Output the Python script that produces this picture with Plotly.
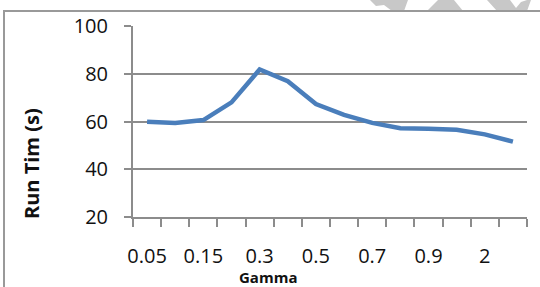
import plotly.graph_objects as go

gamma = ["0.05", "0.1", "0.15", "0.2", "0.3", "0.4", "0.5", "0.6", "0.7", "0.8", "0.9", "1", "2", "3"]
run_time = [59.9, 59.4, 60.6, 68.0, 81.8, 76.9, 67.3, 62.8, 59.4, 57.2, 57.0, 56.5, 54.6, 51.6]
y_ticks = [20, 40, 60, 80, 100]

idx = list(range(len(gamma)))
label_idx = idx[::2]

fig = go.Figure()
fig.add_trace(go.Scatter(
    x=idx, y=run_time, mode="lines",
    line=dict(color="#4A7EBB", width=4.5),
    hoverinfo="skip", showlegend=False,
))

axis_col = "#8C8C8C"
fig.update_layout(
    width=540, height=287,
    margin=dict(l=133, r=13, t=26, b=70),
    paper_bgcolor="white", plot_bgcolor="white",
    font=dict(family="Open Sans, Liberation Sans, sans-serif", color="#111111"),
    xaxis=dict(
        range=[-0.5, len(gamma) - 0.5],
        tickmode="array", tickvals=label_idx, ticktext=[gamma[i] for i in label_idx],
        ticks="", showgrid=False, zeroline=False,
        showline=True, linecolor=axis_col, linewidth=2,
        tickfont=dict(size=20),
        ticklabelstandoff=20,
        minor=dict(tickmode="array", tickvals=[i - 0.5 for i in range(len(gamma) + 1)],
                   ticks="outside", ticklen=8, tickwidth=2, tickcolor=axis_col, showgrid=False),
    ),
    yaxis=dict(
        range=[20, 100], tickmode="array", tickvals=y_ticks,
        ticks="outside", ticklen=7, tickwidth=2, tickcolor=axis_col,
        showgrid=True, gridcolor=axis_col, gridwidth=1.5, zeroline=False,
        showline=True, linecolor=axis_col, linewidth=2,
        tickfont=dict(size=20),
        ticklabelstandoff=12,
    ),
)

def px(x):
    return (x - 133) / 394
def py(y):
    return (217 - y) / 191

# outer chart frame (top and left edges visible)
fig.add_shape(type="line", xref="paper", yref="paper", x0=px(3), x1=px(545), y0=py(11), y1=py(11),
              line=dict(color="#999999", width=2), layer="above")
fig.add_shape(type="line", xref="paper", yref="paper", x0=px(4), x1=px(4), y0=py(11), y1=py(295),
              line=dict(color="#999999", width=2), layer="above")

# faint watermark pieces at top right
wm = "#C8C8C8"
for pts in [
    [(370, 0), (408, 0), (404, 11), (392, 11), (384, 5), (376, 6)],
    [(438, 0), (454, 0), (463, 11), (427, 11)],
    [(487, 0), (510, 0), (516, 8), (521, 2), (527, 0), (531, 0), (527, 11), (497, 11)],
]:
    path = "M " + " L ".join(f"{px(x)},{py(y)}" for x, y in pts) + " Z"
    fig.add_shape(type="path", xref="paper", yref="paper", path=path,
                  fillcolor=wm, line=dict(width=0), layer="below")

fig.add_annotation(text="<b>Run Tim (s)</b>", xref="paper", yref="paper",
                   x=px(31), y=py(164), textangle=-90, showarrow=False,
                   xanchor="center", yanchor="middle",
                   font=dict(size=20, family="Open Sans, sans-serif", color="#111111"))
fig.add_annotation(text="<b>Gamma</b>", xref="paper", yref="paper",
                   x=px(268), y=py(277), showarrow=False,
                   xanchor="center", yanchor="middle",
                   font=dict(size=15, family="Open Sans, sans-serif", color="#111111"))

fig.write_html("out.html", config={"displayModeBar": False},
               post_script="document.body.style.margin='0px';document.body.style.overflow='hidden';")
